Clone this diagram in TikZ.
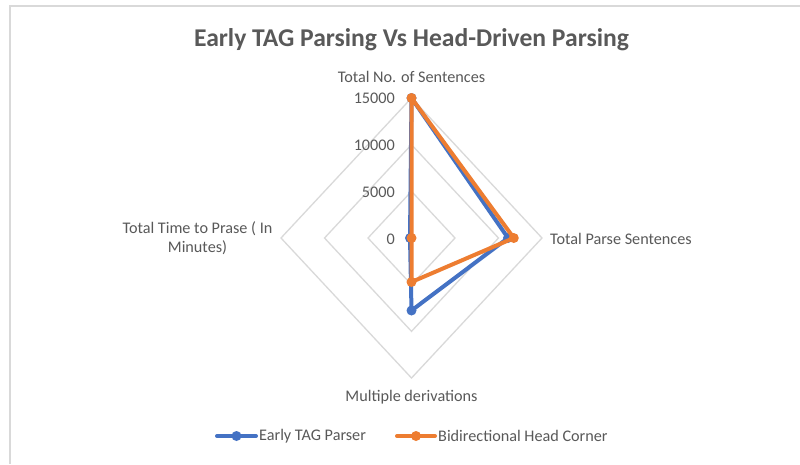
\documentclass[tikz,border=0pt]{standalone}
\usepackage{fontspec}
\setmainfont{Carlito}
\usetikzlibrary{calc}
\definecolor{txt}{HTML}{595959}
\definecolor{gridc}{HTML}{D9D9D9}
\definecolor{serA}{HTML}{4472C4}
\definecolor{serB}{HTML}{ED7D31}
\begin{document}
\begin{tikzpicture}[x=1pt,y=-1pt,
  gridline/.style={draw=gridc, line width=1.3pt},
  frameline/.style={draw=gridc, line width=2pt},
  series/.style={line width=4pt, line join=round, line cap=round},
  dot/.style={circle, inner sep=0pt, minimum size=10pt},
  lbl/.style={text=txt, font=\fontsize{16.2}{19.5}\selectfont, inner sep=0pt},
  ttl/.style={text=txt, font=\fontsize{25.6}{30}\selectfont\bfseries, inner sep=0pt}]
\useasboundingbox (0,0) rectangle (800,464);
\fill[white] (0,0) rectangle (800,464);
% chart frame (runs off the right and bottom edges)
\draw[frameline] (10,464) -- (10,6) -- (800,6);

% radar grid: centre (411.5,238), 15000 -> 130.5 across, 140 down
\coordinate (C) at (411.5,238);
\foreach \k in {1,2,3} {
  \draw[gridline] ($(C)+(0,-\k*46.67)$) -- ($(C)+(\k*43.5,0)$) -- ($(C)+(0,\k*46.67)$)
    -- ($(C)+(-\k*43.5,0)$) -- cycle;
}

% axis labels
\node[lbl] (top) at (411.5,77) {Total No. of Sentences};
\node[lbl, anchor=west] (right) at (550,239) {Total Parse Sentences};
\node[lbl, align=center] (left) at (197.5,238) {Total Time to Prase ( In\\Minutes)};
\node[lbl] (bottom) at (411.5,397) {Multiple derivations};

% value scale
\node[lbl, anchor=east] (t15) at (395,98) {15000};
\node[lbl, anchor=east] (t10) at (395,145) {10000};
\node[lbl, anchor=east] (t5) at (395,192) {5000};
\node[lbl, anchor=east] (t0) at (395,239) {0};

% Early TAG Parser
\coordinate (b1) at (411.5,98);
\coordinate (b2) at (508,238);
\coordinate (b3) at (411.5,310.5);
\coordinate (b4) at (410,238);
% Bidirectional Head Corner
\coordinate (o1) at (411.5,98);
\coordinate (o2) at (513.8,238);
\coordinate (o3) at (411.5,282);
\coordinate (o4) at (411.5,238);

\draw[series, serA] (b1) -- (b2) -- (b3) -- (b4) -- cycle;
\foreach \p in {1,2,3,4} \node[dot, fill=serA] (mb\p) at (b\p) {};
\draw[series, serB] (o1) -- (o2) -- (o3) -- (o4) -- cycle;
\foreach \p in {1,2,3,4} \node[dot, fill=serB] (mo\p) at (o\p) {};

% title
\node[ttl] (title) at (411.5,40) {Early TAG Parsing Vs Head-Driven Parsing};

% legend
\coordinate (la1) at (217,436);
\coordinate (la2) at (256,436);
\coordinate (lb1) at (397,436);
\coordinate (lb2) at (435,436);
\draw[series, serA] (la1) -- (la2);
\node[dot, fill=serA] (lam) at ($(la1)!0.5!(la2)$) {};
\node[lbl, anchor=west] (lat) at (259,436) {Early TAG Parser};
\draw[series, serB] (lb1) -- (lb2);
\node[dot, fill=serB] (lbm) at ($(lb1)!0.5!(lb2)$) {};
\node[lbl, anchor=west] (lbt) at (438,436) {Bidirectional Head Corner};
\end{tikzpicture}
\end{document}
